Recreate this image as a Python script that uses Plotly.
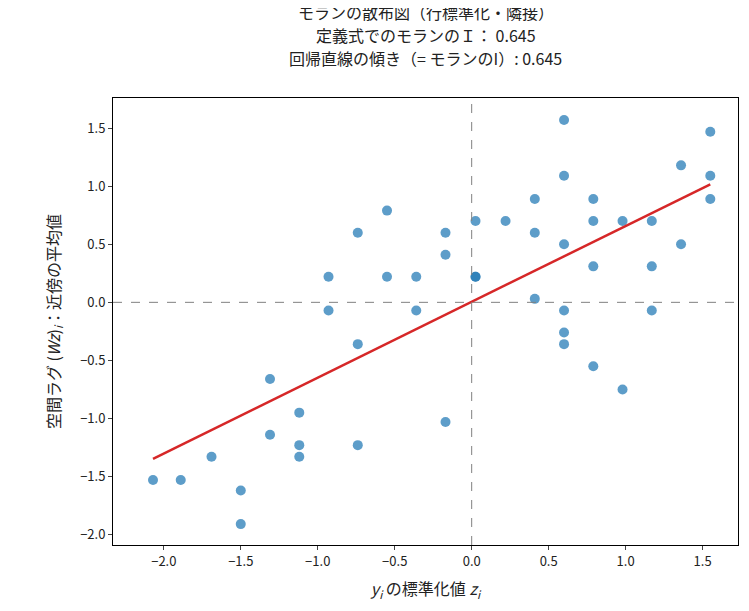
import numpy as np
import plotly.graph_objects as go

# standardized values z_i and spatial lag (Wz)_i
z = [-2.07, -1.89, -1.69, -1.50, -1.50, -1.31, -1.31, -1.12, -1.12, -1.12,
     -0.93, -0.93, -0.74, -0.74, -0.74, -0.55, -0.55, -0.36, -0.36,
     -0.17, -0.17, -0.17, 0.025, 0.025, 0.025, 0.22, 0.41, 0.41, 0.41,
     0.60, 0.60, 0.60, 0.60, 0.60, 0.60, 0.79, 0.79, 0.79, 0.79,
     0.98, 0.98, 1.17, 1.17, 1.17, 1.36, 1.36, 1.55, 1.55, 1.55]
wz = [-1.53, -1.53, -1.33, -1.62, -1.91, -0.66, -1.14, -0.95, -1.23, -1.33,
      0.22, -0.07, 0.60, -0.36, -1.23, 0.79, 0.22, 0.22, -0.07,
      0.60, 0.41, -1.03, 0.70, 0.22, 0.22, 0.70, 0.89, 0.60, 0.03,
      1.57, 1.09, 0.50, -0.07, -0.26, -0.36, 0.89, 0.70, 0.31, -0.55,
      0.70, -0.75, 0.70, 0.31, -0.07, 1.18, 0.50, 1.47, 1.09, 0.89]
moran_i = 0.645

title_lines = ["モランの散布図（行標準化・隣接）",
               f"定義式でのモランのＩ： {moran_i:.3f}",
               f"回帰直線の傾き（= モランのI）: {moran_i:.3f}"]

slope, intercept = np.polyfit(z, wz, 1)
xs = np.array([min(z), max(z)])

font = "Noto Sans CJK JP"
fig = go.Figure()
fig.add_trace(go.Scatter(x=z, y=wz, mode="markers",
                         marker=dict(color="#1f77b4", opacity=0.72, size=10),
                         showlegend=False))
fig.add_trace(go.Scatter(x=xs, y=slope * xs + intercept, mode="lines",
                         line=dict(color="#d62728", width=2.5), showlegend=False))
fig.add_hline(y=0, line=dict(color="gray", width=1, dash="dash"))
fig.add_vline(x=0, line=dict(color="gray", width=1, dash="dash"))

# title as three stacked annotations
for k, line in enumerate(title_lines):
    fig.add_annotation(text=line, xref="paper", yref="paper", x=0.5, y=1.0,
                       yshift=72 - 23 * k, xanchor="center", yanchor="bottom",
                       showarrow=False, font=dict(size=16, color="#222"))

ticks = [-2, -1.5, -1, -0.5, 0, 0.5, 1, 1.5]
labels = ["−2.0", "−1.5", "−1.0", "−0.5", "0.0", "0.5", "1.0", "1.5"]
axis = dict(showgrid=False, zeroline=False, showline=True, mirror=True,
            linecolor="black", linewidth=1, ticks="outside", ticklen=4,
            tickfont=dict(size=13, color="#222"), automargin=False)
fig.update_layout(
    width=749, height=611, plot_bgcolor="white", paper_bgcolor="white",
    font=dict(family=font, color="#222"),
    margin=dict(l=105, r=19, t=90, b=74),
    xaxis=dict(axis, range=[-2.33, 1.73], tickvals=ticks, ticktext=labels,
               title=dict(text="<i>y<sub>i</sub></i> の標準化値 <i>z<sub>i</sub></i>",
                          font=dict(size=16))),
    yaxis=dict(axis, range=[-2.09, 1.76], tickvals=ticks, ticktext=labels,
               title=dict(text="空間ラグ (<i>Wz</i>)<sub><i>i</i></sub>：近傍の平均値",
                          font=dict(size=16))),
)
fig.write_html("out.html")
